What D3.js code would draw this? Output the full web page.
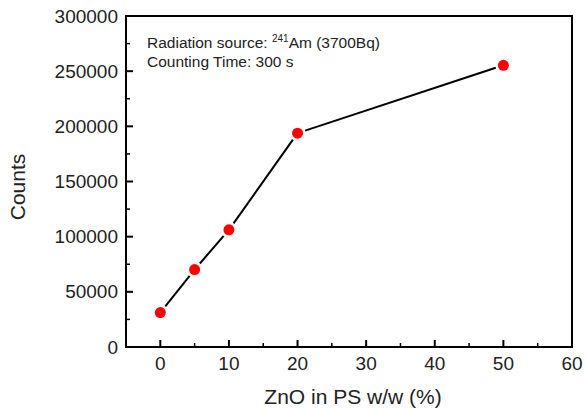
<!DOCTYPE html>
<html>
<head>
<meta charset="utf-8">
<script src="https://cdn.jsdelivr.net/npm/d3@7"></script>
<style>
  body { margin: 0; background: #fff; }
  svg { display: block; font-family: "Liberation Sans", Arial, sans-serif; }
</style>
</head>
<body>
<div id="chart"></div>
<script>
const zno = [0, 5, 10, 20, 50];
const counts = [31200, 70200, 106200, 193800, 255300];
const xTicks = [0, 10, 20, 30, 40, 50, 60];
const yTicks = [0, 50000, 100000, 150000, 200000, 250000, 300000];

const W = 586, H = 409;
const M = { left: 126, right: 14, top: 16, bottom: 62 };
const TEXT = "#222";

const svg = d3.select("#chart").append("svg")
    .attr("width", W).attr("height", H);

const x = d3.scaleLinear().domain([-5, 60]).range([M.left, W - M.right]);
const y = d3.scaleLinear().domain([0, 300000]).range([H - M.bottom, M.top]);

// frame
svg.append("rect")
    .attr("x", x(-5)).attr("y", y(300000))
    .attr("width", x(60) - x(-5)).attr("height", y(0) - y(300000))
    .attr("fill", "none").attr("stroke", "#000").attr("stroke-width", 2);

// x axis ticks (inward)
const xMinor = d3.range(5, 60, 10);
svg.append("g").selectAll("line").data(xTicks.filter(v => v < 60)).join("line")
    .attr("x1", d => x(d)).attr("x2", d => x(d))
    .attr("y1", y(0)).attr("y2", y(0) - 7)
    .attr("stroke", "#000").attr("stroke-width", 2);
svg.append("g").selectAll("line").data(xMinor).join("line")
    .attr("x1", d => x(d)).attr("x2", d => x(d))
    .attr("y1", y(0)).attr("y2", y(0) - 4)
    .attr("stroke", "#000").attr("stroke-width", 1.5);
svg.append("g").selectAll("text").data(xTicks).join("text")
    .attr("x", d => x(d)).attr("y", y(0) + 23)
    .attr("text-anchor", "middle").attr("font-size", 19).attr("fill", TEXT)
    .text(d => d);

// y axis ticks (inward)
const yMinor = d3.range(25000, 300000, 50000);
svg.append("g").selectAll("line").data(yTicks.filter(v => v > 0 && v < 300000)).join("line")
    .attr("x1", x(-5)).attr("x2", x(-5) + 7)
    .attr("y1", d => y(d)).attr("y2", d => y(d))
    .attr("stroke", "#000").attr("stroke-width", 2);
svg.append("g").selectAll("line").data(yMinor).join("line")
    .attr("x1", x(-5)).attr("x2", x(-5) + 4)
    .attr("y1", d => y(d)).attr("y2", d => y(d))
    .attr("stroke", "#000").attr("stroke-width", 1.5);
svg.append("g").selectAll("text").data(yTicks).join("text")
    .attr("x", x(-5) - 8).attr("y", d => y(d)).attr("dy", "0.35em")
    .attr("text-anchor", "end").attr("font-size", 19).attr("fill", TEXT)
    .text(d => d);

// axis titles
svg.append("text")
    .attr("x", (x(-5) + x(60)) / 2 + 4).attr("y", 404)
    .attr("text-anchor", "middle").attr("font-size", 21).attr("fill", TEXT)
    .text("ZnO in PS w/w (%)");
svg.append("text")
    .attr("transform", `translate(25,187) rotate(-90)`)
    .attr("text-anchor", "middle").attr("font-size", 21).attr("fill", TEXT)
    .text("Counts");

// annotation
const note = svg.append("text").attr("x", 147).attr("y", 48)
    .attr("font-size", 15.5).attr("fill", TEXT);
note.append("tspan").text("Radiation source: ");
note.append("tspan").attr("font-size", 10).attr("dy", -6).text("241");
note.append("tspan").attr("dy", 6).text("Am (3700Bq)");
svg.append("text").attr("x", 147).attr("y", 67)
    .attr("font-size", 15.5).attr("fill", TEXT)
    .text("Counting Time: 300 s");

// line segments, stopping short of the markers
const pts = zno.map((v, i) => [x(v), y(counts[i])]);
const gap = 8;
const segs = d3.pairs(pts).map(([a, b]) => {
    const dx = b[0] - a[0], dy = b[1] - a[1];
    const L = Math.hypot(dx, dy);
    return [a[0] + dx * gap / L, a[1] + dy * gap / L, b[0] - dx * gap / L, b[1] - dy * gap / L];
});
svg.append("g").selectAll("line").data(segs).join("line")
    .attr("x1", d => d[0]).attr("y1", d => d[1])
    .attr("x2", d => d[2]).attr("y2", d => d[3])
    .attr("stroke", "#000").attr("stroke-width", 2);

svg.append("g").selectAll("circle").data(zno).join("circle")
    .attr("cx", d => x(d)).attr("cy", (d, i) => y(counts[i]))
    .attr("r", 5.5).attr("fill", "#f00");
</script>
</body>
</html>
